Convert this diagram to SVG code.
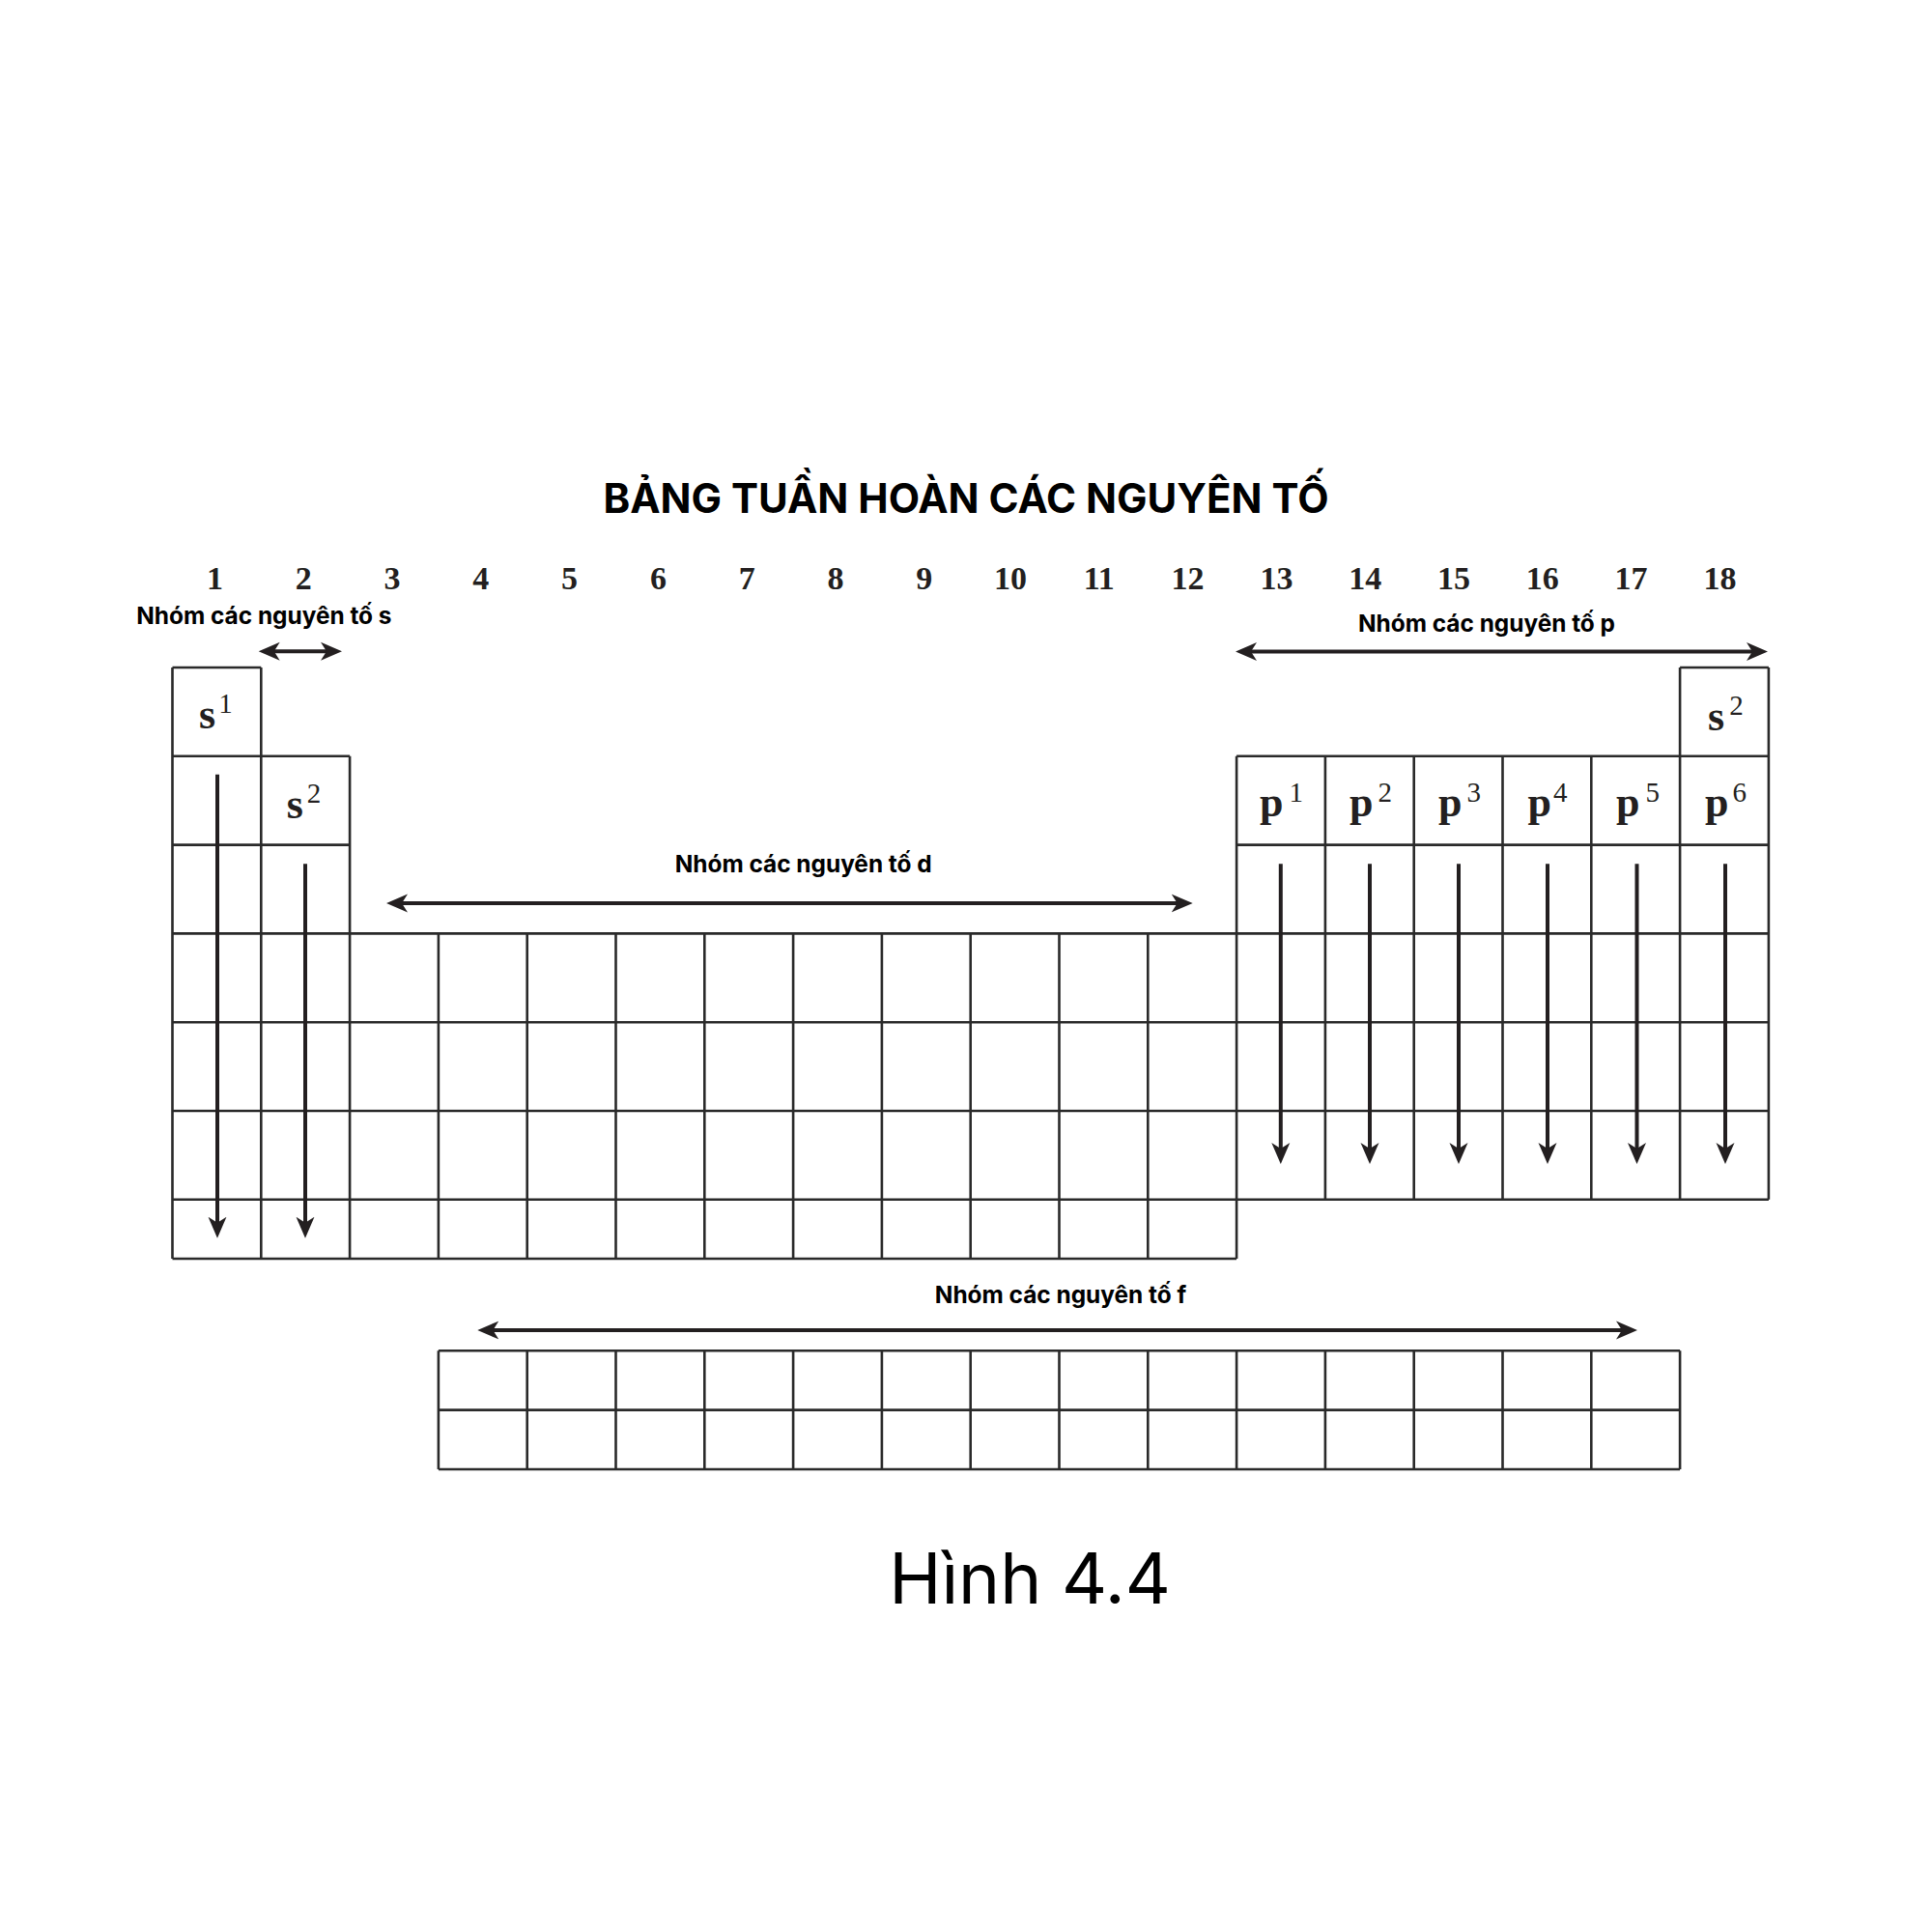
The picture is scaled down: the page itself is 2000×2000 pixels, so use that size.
<svg xmlns="http://www.w3.org/2000/svg" width="2000" height="2000" viewBox="0 0 2000 2000">
  <style>
    .grid { fill: none; stroke: #2a2a2a; stroke-width: 2.6; }
    .arr { fill: none; stroke: #231f20; stroke-width: 4; }
    .varr { fill: none; stroke: #231f20; stroke-width: 4; }
    .num { font-family: "Liberation Serif", "Times New Roman", serif; font-weight: 700; font-size: 34px; fill: #231f20; text-anchor: middle; }
    .el { font-family: "Liberation Serif", "Times New Roman", serif; font-weight: 700; font-size: 44px; fill: #231f20; }
    .sup { font-weight: 400; font-size: 29px; }
    .lbl { font-family: Inter, "Noto Sans", "Liberation Sans", sans-serif; font-weight: 700; font-size: 24.4px; fill: #000; text-anchor: middle; }
    .title { font-family: Inter, "Noto Sans", "Liberation Sans", sans-serif; font-weight: 700; font-size: 42px; fill: #000; text-anchor: middle; }
    .cap { font-family: Inter, "Noto Sans", "Liberation Sans", sans-serif; font-weight: 400; font-size: 73px; fill: #000; text-anchor: middle; }
  </style>
  <defs>
    <marker id="ah" markerUnits="userSpaceOnUse" viewBox="0 -11 24 22" markerWidth="24" markerHeight="22" refX="8" refY="0" orient="auto-start-reverse">
      <path d="M0,-9.5 L22,0 L0,9.5 L6,0 Z" fill="#231f20"/>
    </marker>
  </defs>
  <rect width="2000" height="2000" fill="#fff"/>

  <g id="title">
    <text class="title" x="1000" y="531">BẢNG TUẦN HOÀN CÁC NGUYÊN TỐ</text>
  </g>

  <g id="group-numbers">
    <text class="num" x="222.4" y="610">1</text>
    <text class="num" x="314.2" y="610">2</text>
    <text class="num" x="406" y="610">3</text>
    <text class="num" x="497.8" y="610">4</text>
    <text class="num" x="589.6" y="610">5</text>
    <text class="num" x="681.4" y="610">6</text>
    <text class="num" x="773.2" y="610">7</text>
    <text class="num" x="865" y="610">8</text>
    <text class="num" x="956.8" y="610">9</text>
    <text class="num" x="1046" y="610">10</text>
    <text class="num" x="1137.8" y="610">11</text>
    <text class="num" x="1229.6" y="610">12</text>
    <text class="num" x="1321.4" y="610">13</text>
    <text class="num" x="1413.2" y="610">14</text>
    <text class="num" x="1505" y="610">15</text>
    <text class="num" x="1596.8" y="610">16</text>
    <text class="num" x="1688.6" y="610">17</text>
    <text class="num" x="1780.4" y="610">18</text>
  </g>

  <g id="main-grid">
    <path class="grid" d="M178.5,691 V1303 M270.3,691 V1303 M362.1,782.8 V1303
      M453.9,966.4 V1303 M545.7,966.4 V1303 M637.5,966.4 V1303 M729.3,966.4 V1303 M821.1,966.4 V1303
      M912.9,966.4 V1303 M1004.7,966.4 V1303 M1096.5,966.4 V1303 M1188.3,966.4 V1303
      M1280.1,782.8 V1303 M1371.9,782.8 V1241.8 M1463.7,782.8 V1241.8 M1555.5,782.8 V1241.8
      M1647.3,782.8 V1241.8 M1739.1,691 V1241.8 M1830.9,691 V1241.8
      M178.5,691 H270.3 M178.5,782.8 H362.1 M178.5,874.6 H362.1
      M1739.1,691 H1830.9 M1280.1,782.8 H1830.9 M1280.1,874.6 H1830.9
      M178.5,966.4 H1830.9 M178.5,1058.2 H1830.9 M178.5,1150 H1830.9 M178.5,1241.8 H1830.9
      M178.5,1303 H1280.1"/>
  </g>

  <g id="f-grid">
    <path class="grid" d="M453.9,1398.3 H1739.1 M453.9,1459.6 H1739.1 M453.9,1521 H1739.1
      M453.9,1398.3 V1521 M545.7,1398.3 V1521 M637.5,1398.3 V1521 M729.3,1398.3 V1521 M821.1,1398.3 V1521
      M912.9,1398.3 V1521 M1004.7,1398.3 V1521 M1096.5,1398.3 V1521 M1188.3,1398.3 V1521 M1280.1,1398.3 V1521
      M1371.9,1398.3 V1521 M1463.7,1398.3 V1521 M1555.5,1398.3 V1521 M1647.3,1398.3 V1521 M1739.1,1398.3 V1521"/>
  </g>

  <g id="cell-s1"><text class="el" x="206" y="754">s<tspan class="sup" dx="3" dy="-16">1</tspan></text></g>
  <g id="cell-s2-g2"><text class="el" x="296.7" y="847">s<tspan class="sup" dx="4" dy="-16">2</tspan></text></g>
  <g id="cell-s2-g18"><text class="el" x="1768" y="756">s<tspan class="sup" dx="5" dy="-16">2</tspan></text></g>
  <g id="cell-p1"><text class="el" x="1304" y="845">p<tspan class="sup" dx="6" dy="-15">1</tspan></text></g>
  <g id="cell-p2"><text class="el" x="1397" y="845">p<tspan class="sup" dx="5" dy="-15">2</tspan></text></g>
  <g id="cell-p3"><text class="el" x="1489" y="845">p<tspan class="sup" dx="5" dy="-15">3</tspan></text></g>
  <g id="cell-p4"><text class="el" x="1581.5" y="845">p<tspan class="sup" dx="2" dy="-15">4</tspan></text></g>
  <g id="cell-p5"><text class="el" x="1673" y="845">p<tspan class="sup" dx="6" dy="-15">5</tspan></text></g>
  <g id="cell-p6"><text class="el" x="1765" y="845">p<tspan class="sup" dx="4" dy="-15">6</tspan></text></g>

  <g id="label-s"><text class="lbl" x="273.4" y="646">Nhóm các nguyên tố s</text></g>
  <g id="label-p"><text class="lbl" x="1539" y="654">Nhóm các nguyên tố p</text></g>
  <g id="label-d"><text class="lbl" x="831.7" y="903">Nhóm các nguyên tố d</text></g>
  <g id="label-f"><text class="lbl" x="1098" y="1349">Nhóm các nguyên tố f</text></g>

  <g id="connectors">
    <line class="arr" x1="281.7" y1="674.3" x2="340" y2="674.3" marker-start="url(#ah)" marker-end="url(#ah)"/>
    <line class="arr" x1="1293" y1="674.5" x2="1816" y2="674.5" marker-start="url(#ah)" marker-end="url(#ah)"/>
    <line class="arr" x1="414" y1="935" x2="1220.7" y2="935" marker-start="url(#ah)" marker-end="url(#ah)"/>
    <line class="arr" x1="508.3" y1="1377" x2="1681" y2="1377" marker-start="url(#ah)" marker-end="url(#ah)"/>
    <line class="varr" x1="225" y1="801.7" x2="225" y2="1267.7" marker-end="url(#ah)"/>
    <line class="varr" x1="316" y1="894.3" x2="316" y2="1267.7" marker-end="url(#ah)"/>
    <line class="varr" x1="1325.8" y1="894.3" x2="1325.8" y2="1191" marker-end="url(#ah)"/>
    <line class="varr" x1="1418" y1="894.3" x2="1418" y2="1191" marker-end="url(#ah)"/>
    <line class="varr" x1="1510" y1="894.3" x2="1510" y2="1191" marker-end="url(#ah)"/>
    <line class="varr" x1="1602" y1="894.3" x2="1602" y2="1191" marker-end="url(#ah)"/>
    <line class="varr" x1="1694.5" y1="894.3" x2="1694.5" y2="1191" marker-end="url(#ah)"/>
    <line class="varr" x1="1786" y1="894.3" x2="1786" y2="1191" marker-end="url(#ah)"/>
  </g>

  <g id="caption">
    <text class="cap" x="1066" y="1660">Hình 4.4</text>
  </g>
</svg>
